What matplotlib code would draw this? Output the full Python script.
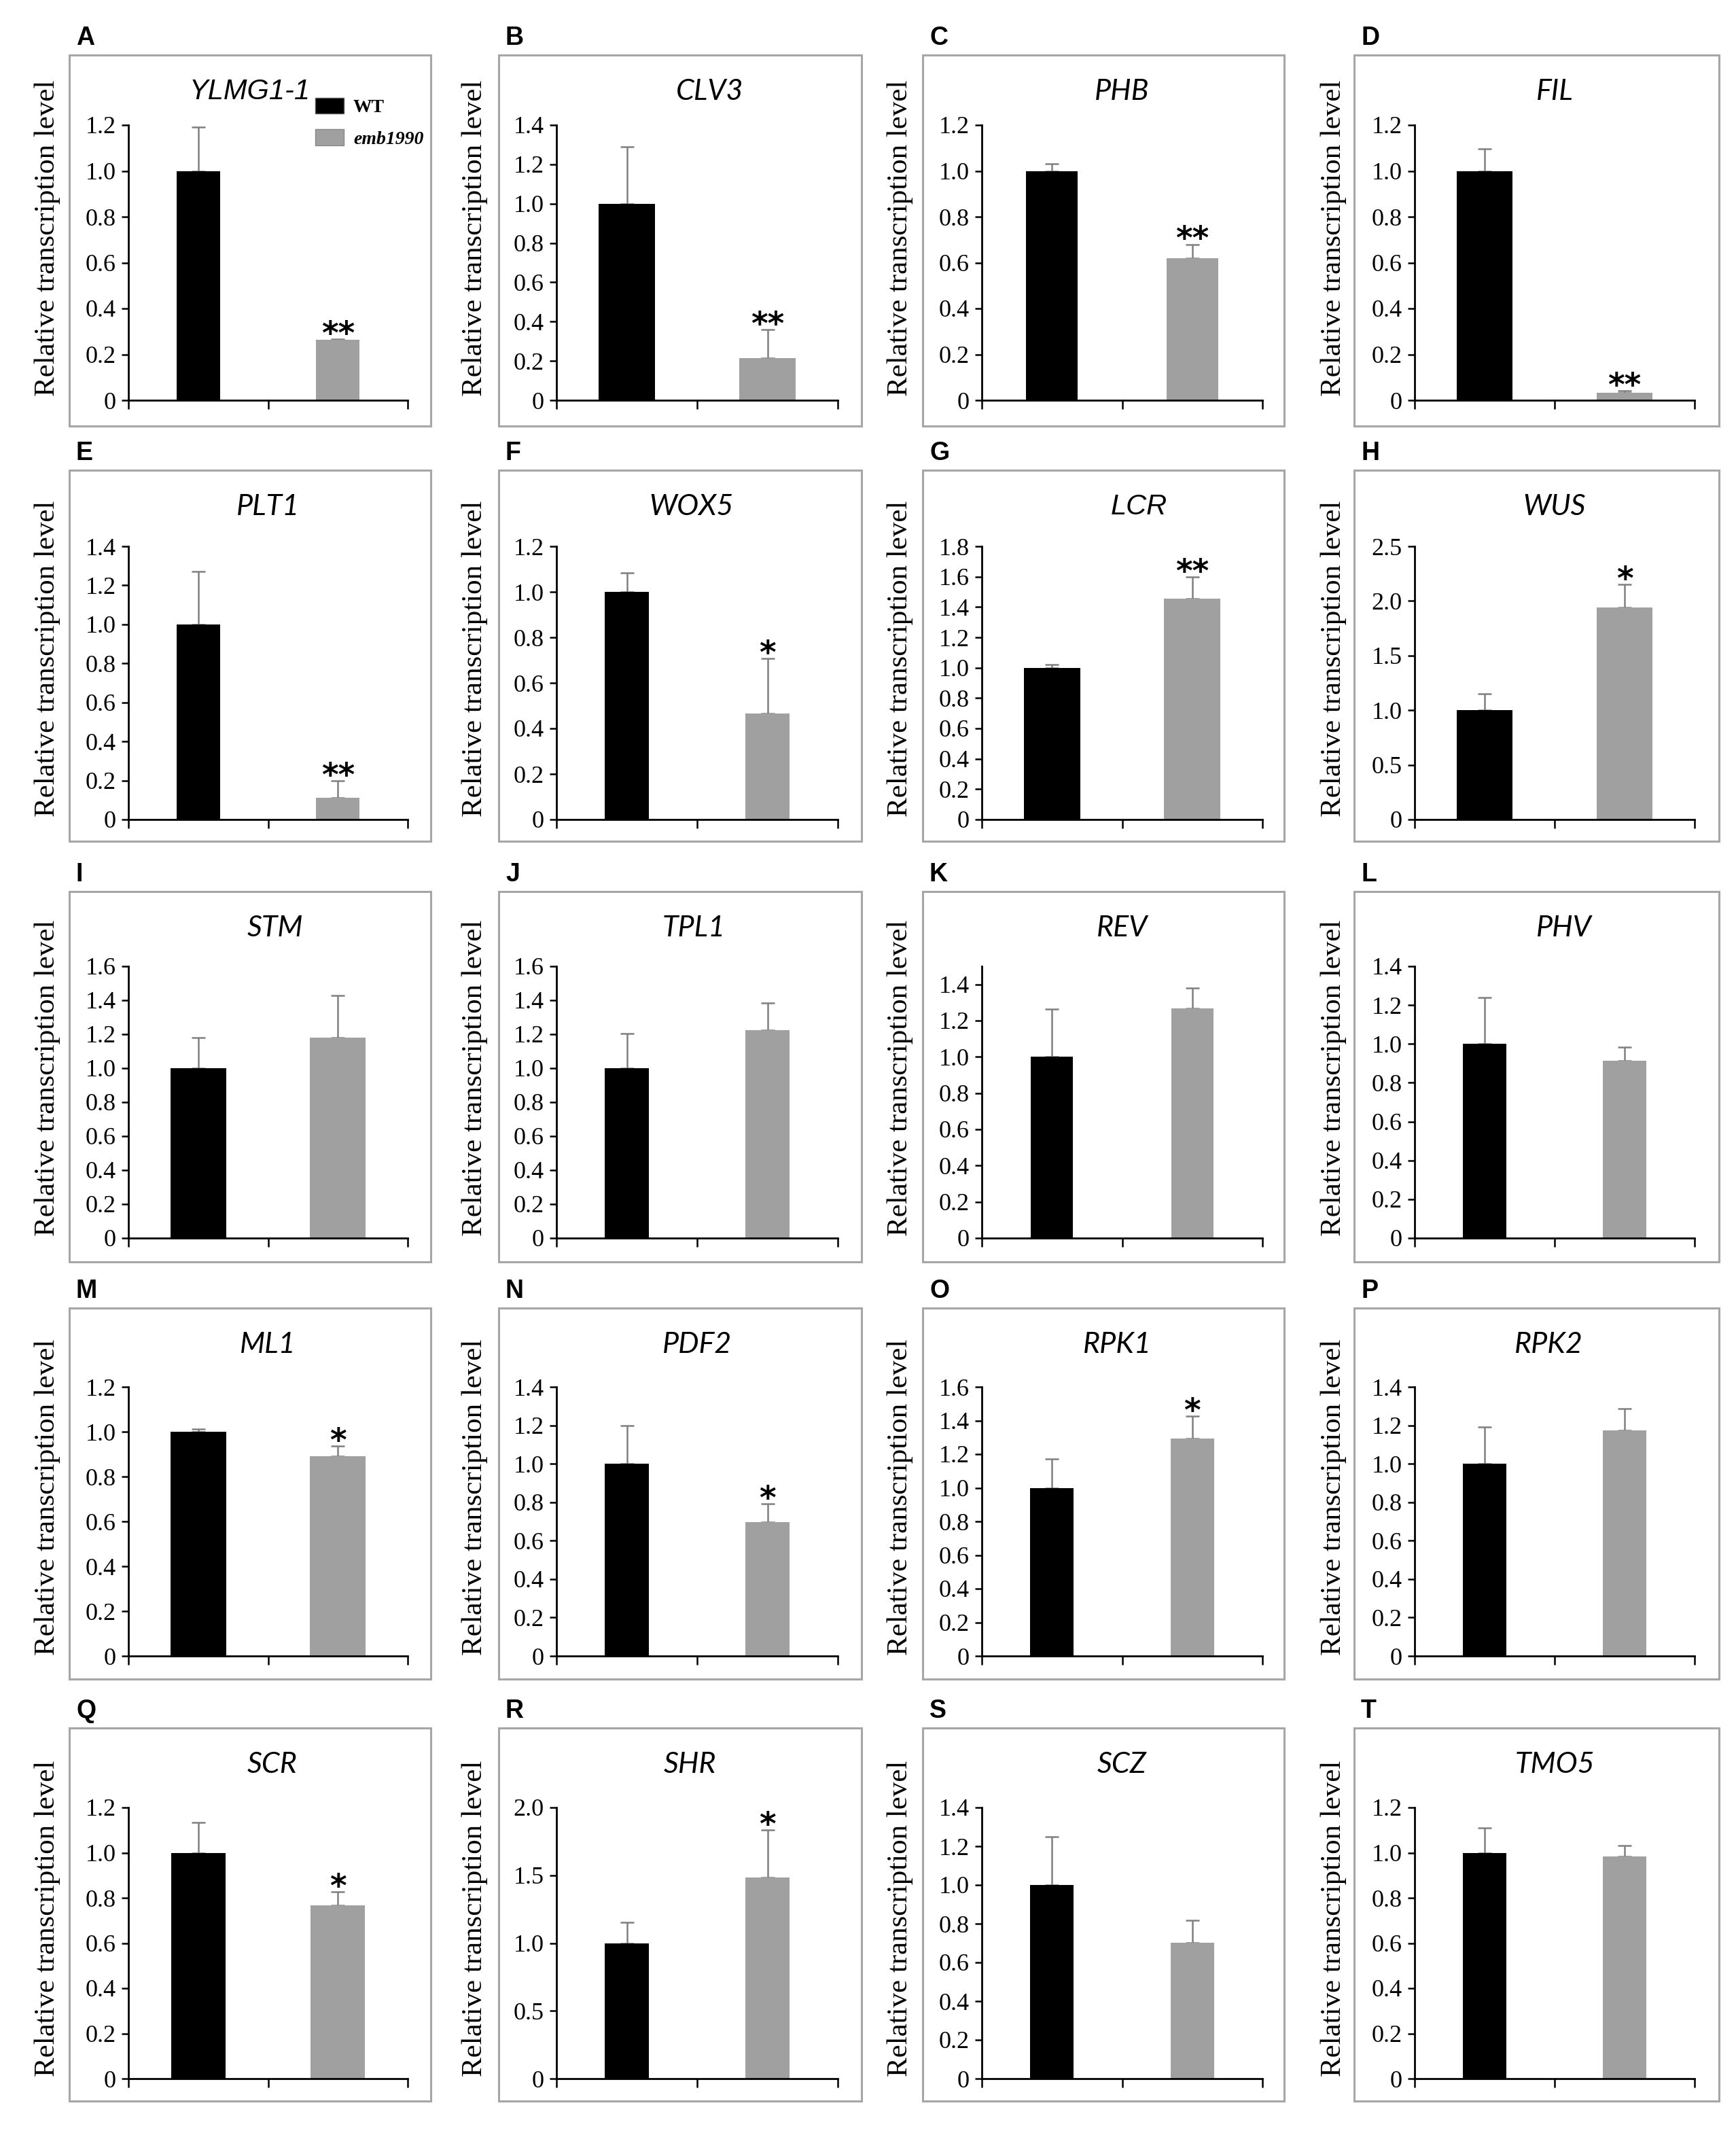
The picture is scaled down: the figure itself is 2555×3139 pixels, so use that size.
import matplotlib
matplotlib.use("Agg")
import numpy as np
import matplotlib.pyplot as plt
from matplotlib.patches import Rectangle, Patch
from matplotlib.ticker import FixedLocator, FuncFormatter

# ---- data ----
panel_letters = ["A", "B", "C", "D", "E", "F", "G", "H", "I", "J",
                 "K", "L", "M", "N", "O", "P", "Q", "R", "S", "T"]
gene_names = ["YLMG1-1", "CLV3", "PHB", "FIL", "PLT1", "WOX5", "LCR", "WUS",
              "STM", "TPL1", "REV", "PHV", "ML1", "PDF2", "RPK1", "RPK2",
              "SCR", "SHR", "SCZ", "TMO5"]
genotypes = ["WT", "emb1990"]
wt_mean = [1.0, 1.0, 1.0, 1.0, 1.0, 1.0, 1.0, 1.0, 1.0, 1.0,
           1.0, 1.0, 1.0, 1.0, 1.0, 1.0, 1.0, 1.0, 1.0, 1.0]
wt_err = [0.19, 0.29, 0.03, 0.095, 0.27, 0.085, 0.023, 0.15, 0.18, 0.205,
          0.265, 0.24, 0.012, 0.20, 0.17, 0.19, 0.135, 0.155, 0.25, 0.11]
emb_mean = [0.263, 0.214, 0.62, 0.033, 0.11, 0.467, 1.455, 1.94, 1.18, 1.225,
            1.266, 0.915, 0.892, 0.698, 1.294, 1.175, 0.767, 1.484, 0.701, 0.984]
emb_err = [0.004, 0.145, 0.06, 0.008, 0.09, 0.24, 0.143, 0.21, 0.25, 0.16,
           0.115, 0.07, 0.043, 0.093, 0.132, 0.113, 0.06, 0.35, 0.115, 0.048]
significance = ["**", "**", "**", "**", "**", "*", "**", "*", "", "",
                "", "", "*", "*", "*", "", "*", "*", "", ""]
y_max = [1.2, 1.4, 1.2, 1.2, 1.4, 1.2, 1.8, 2.5, 1.6, 1.6,
         1.5, 1.4, 1.2, 1.4, 1.6, 1.4, 1.2, 2.0, 1.4, 1.2]
y_step = [0.2, 0.2, 0.2, 0.2, 0.2, 0.2, 0.2, 0.5, 0.2, 0.2,
          0.2, 0.2, 0.2, 0.2, 0.2, 0.2, 0.2, 0.5, 0.2, 0.2]

# ---- styling / layout (pixels of the 2555x3139 canvas) ----
bar_width = [0.31, 0.40, 0.37, 0.40, 0.31, 0.31, 0.40, 0.40, 0.40, 0.31,
             0.30, 0.31, 0.40, 0.31, 0.31, 0.31, 0.39, 0.31, 0.31, 0.31]
title_dx = [-27, 19, 0, 0, 0, -9, 25, 0, 10, -5,
            0, 14, 0, 0, -7, -9, 6, -11, 0, 0]
W, H = 2555, 3139
col_axes = [(189, 600), (819, 1233), (1445, 1858), (2082, 2494)]
col_box = [(102, 634), (734, 1268), (1358, 1890), (1993, 2530)]
row_axes = [(184, 589), (804, 1206), (1422, 1822), (2041, 2437), (2660, 3059)]
row_box = [(81, 627), (692, 1238), (1312, 1857), (1925, 2471), (2543, 3092)]

WT_COLOR = "black"
EMB_COLOR = "#a0a0a0"
ERR_COLOR = "#808080"
BOX_COLOR = "#a6a6a6"
SERIF = ["Liberation Serif", "DejaVu Serif"]
SANS = ["Liberation Sans", "DejaVu Sans"]

fig = plt.figure(figsize=(W / 100, H / 100), dpi=100)


def fx(x):
    return x / W


def fy(y):
    return 1 - y / H


fmt = FuncFormatter(lambda v, _: "0" if abs(v) < 1e-9 else f"{v:.1f}")

for i, gene in enumerate(gene_names):
    r, c = divmod(i, 4)
    ax_l, ax_r = col_axes[c]
    ax_t, ax_b = row_axes[r]
    bx_l, bx_r = col_box[c]
    bx_t, bx_b = row_box[r]

    # grey frame around each panel
    fig.patches.append(Rectangle((fx(bx_l), fy(bx_b)), (bx_r - bx_l) / W, (bx_b - bx_t) / H,
                                 transform=fig.transFigure, fill=False,
                                 edgecolor=BOX_COLOR, linewidth=2.2, zorder=0))
    fig.text(fx(bx_l + 10), fy(bx_t - 25), panel_letters[i], fontsize=27, fontweight="bold",
             family=SANS, ha="left", va="center")
    if gene in ("YLMG1-1", "LCR"):
        tfam, tsize = SANS, 30
    else:
        tfam, tsize = ["Lato", "DejaVu Sans"], 31
    fig.text(fx((ax_l + ax_r) / 2 + title_dx[i]), fy(bx_t + 54), gene, fontsize=tsize,
             style="italic", family=tfam, ha="center", va="center")

    ax = fig.add_axes([fx(ax_l), fy(ax_b), (ax_r - ax_l) / W, (ax_b - ax_t) / H])
    x = np.array([0.5, 1.5])
    means = [wt_mean[i], emb_mean[i]]
    errs = [wt_err[i], emb_err[i]]
    ax.bar(x, means, width=bar_width[i], color=[WT_COLOR, EMB_COLOR], zorder=2)
    ax.errorbar(x, means, yerr=[[0, 0], errs], fmt="none", ecolor=ERR_COLOR,
                elinewidth=1.8, capsize=7, capthick=1.8, zorder=1)
    if significance[i]:
        ax.annotate(significance[i], xy=(1.5, means[1] + errs[1]), xytext=(0, -5),
                    textcoords="offset points", ha="center", va="baseline",
                    fontsize=34, fontweight="bold", family=["DejaVu Sans"],
                    annotation_clip=False)

    ax.set_xlim(0, 2)
    ax.set_ylim(0, y_max[i])
    ax.xaxis.set_major_locator(FixedLocator([0, 1, 2]))
    ax.set_xticklabels([])
    ticks = np.arange(0, y_max[i] + 1e-9, y_step[i])
    ax.yaxis.set_major_locator(FixedLocator(ticks))
    ax.yaxis.set_major_formatter(fmt)
    for lab in ax.get_yticklabels():
        lab.set_family(SERIF)
    ax.tick_params(axis="y", labelsize=26, length=7, width=1.8, direction="out", pad=6)
    ax.tick_params(axis="x", length=9, width=1.8, direction="out")
    for s in ["top", "right"]:
        ax.spines[s].set_visible(False)
    for s in ["left", "bottom"]:
        ax.spines[s].set_linewidth(2.0)
    ax.spines["bottom"].set_zorder(3)
    ax.set_ylabel("Relative transcription level", fontsize=31, family=SERIF,
                  va="center")
    ax.yaxis.set_label_coords(-0.29, 0.59)
    ax.patch.set_visible(False)

    if i == 0:
        handles = [Patch(facecolor=WT_COLOR, edgecolor="#555555"),
                   Patch(facecolor=EMB_COLOR, edgecolor="#888888")]
        leg = ax.legend(handles, genotypes, loc="upper left", bbox_to_anchor=(0.67, 1.1),
                        frameon=False, prop={"family": SERIF, "weight": "bold", "size": 20},
                        handlelength=1.5, handleheight=0.95, labelspacing=0.7,
                        handletextpad=0.5, borderpad=0, borderaxespad=0)
        leg.get_texts()[1].set_style("italic")

fig.savefig("out.png", dpi=100, facecolor="white")
